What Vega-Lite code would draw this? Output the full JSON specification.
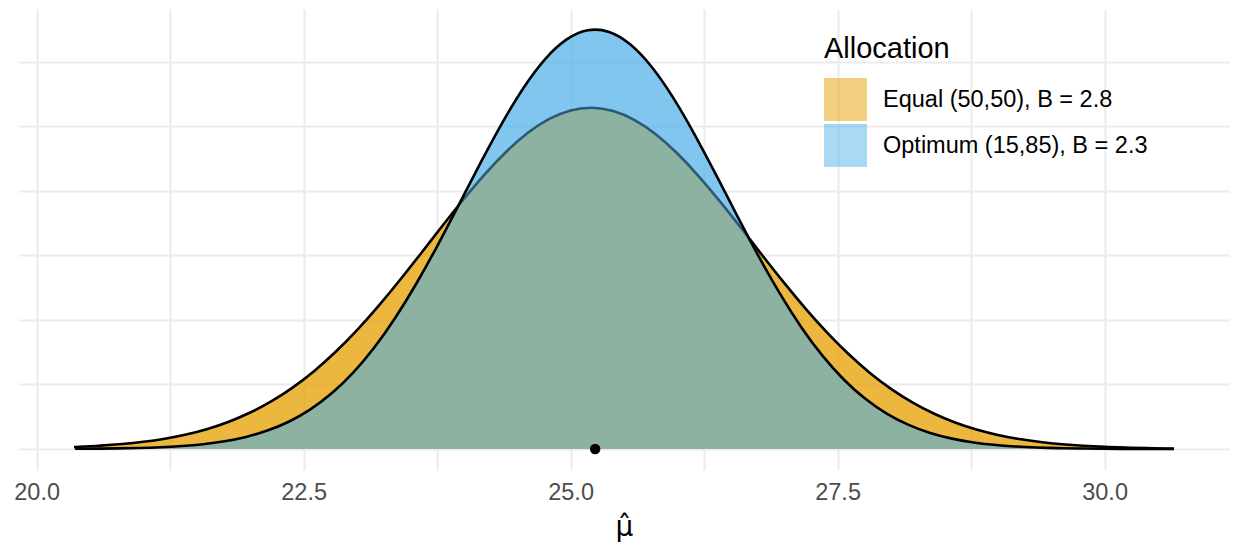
{
  "$schema": "https://vega.github.io/schema/vega-lite/v6.json",
  "width": 1210,
  "height": 461,
  "autosize": {"type": "none"},
  "padding": {"left": 19, "top": 9, "right": 6, "bottom": 90},
  "background": "white",
  "config": {"view": {"stroke": null}, "font": "Liberation Sans"},
  "datasets": {
    "dens": [
      {"x": 20.35, "y": 0.00153, "g": "Equal (50,50), B = 2.8"},
      {"x": 20.4, "y": 0.0017, "g": "Equal (50,50), B = 2.8"},
      {"x": 20.6, "y": 0.00258, "g": "Equal (50,50), B = 2.8"},
      {"x": 20.8, "y": 0.00382, "g": "Equal (50,50), B = 2.8"},
      {"x": 21.0, "y": 0.00557, "g": "Equal (50,50), B = 2.8"},
      {"x": 21.2, "y": 0.00799, "g": "Equal (50,50), B = 2.8"},
      {"x": 21.4, "y": 0.01124, "g": "Equal (50,50), B = 2.8"},
      {"x": 21.6, "y": 0.01555, "g": "Equal (50,50), B = 2.8"},
      {"x": 21.8, "y": 0.02114, "g": "Equal (50,50), B = 2.8"},
      {"x": 22.0, "y": 0.02823, "g": "Equal (50,50), B = 2.8"},
      {"x": 22.2, "y": 0.03705, "g": "Equal (50,50), B = 2.8"},
      {"x": 22.4, "y": 0.04777, "g": "Equal (50,50), B = 2.8"},
      {"x": 22.6, "y": 0.06051, "g": "Equal (50,50), B = 2.8"},
      {"x": 22.8, "y": 0.07533, "g": "Equal (50,50), B = 2.8"},
      {"x": 23.0, "y": 0.09214, "g": "Equal (50,50), B = 2.8"},
      {"x": 23.2, "y": 0.11074, "g": "Equal (50,50), B = 2.8"},
      {"x": 23.4, "y": 0.13076, "g": "Equal (50,50), B = 2.8"},
      {"x": 23.6, "y": 0.1517, "g": "Equal (50,50), B = 2.8"},
      {"x": 23.8, "y": 0.17296, "g": "Equal (50,50), B = 2.8"},
      {"x": 24.0, "y": 0.19373, "g": "Equal (50,50), B = 2.8"},
      {"x": 24.2, "y": 0.21322, "g": "Equal (50,50), B = 2.8"},
      {"x": 24.4, "y": 0.23059, "g": "Equal (50,50), B = 2.8"},
      {"x": 24.6, "y": 0.24502, "g": "Equal (50,50), B = 2.8"},
      {"x": 24.8, "y": 0.2558, "g": "Equal (50,50), B = 2.8"},
      {"x": 25.0, "y": 0.26241, "g": "Equal (50,50), B = 2.8"},
      {"x": 25.2, "y": 0.2645, "g": "Equal (50,50), B = 2.8"},
      {"x": 25.4, "y": 0.26195, "g": "Equal (50,50), B = 2.8"},
      {"x": 25.6, "y": 0.2549, "g": "Equal (50,50), B = 2.8"},
      {"x": 25.8, "y": 0.24372, "g": "Equal (50,50), B = 2.8"},
      {"x": 26.0, "y": 0.22897, "g": "Equal (50,50), B = 2.8"},
      {"x": 26.2, "y": 0.21135, "g": "Equal (50,50), B = 2.8"},
      {"x": 26.4, "y": 0.1917, "g": "Equal (50,50), B = 2.8"},
      {"x": 26.6, "y": 0.17085, "g": "Equal (50,50), B = 2.8"},
      {"x": 26.8, "y": 0.14959, "g": "Equal (50,50), B = 2.8"},
      {"x": 27.0, "y": 0.12871, "g": "Equal (50,50), B = 2.8"},
      {"x": 27.2, "y": 0.1088, "g": "Equal (50,50), B = 2.8"},
      {"x": 27.4, "y": 0.09037, "g": "Equal (50,50), B = 2.8"},
      {"x": 27.6, "y": 0.07375, "g": "Equal (50,50), B = 2.8"},
      {"x": 27.8, "y": 0.05915, "g": "Equal (50,50), B = 2.8"},
      {"x": 28.0, "y": 0.0466, "g": "Equal (50,50), B = 2.8"},
      {"x": 28.2, "y": 0.03609, "g": "Equal (50,50), B = 2.8"},
      {"x": 28.4, "y": 0.02745, "g": "Equal (50,50), B = 2.8"},
      {"x": 28.6, "y": 0.02051, "g": "Equal (50,50), B = 2.8"},
      {"x": 28.8, "y": 0.01506, "g": "Equal (50,50), B = 2.8"},
      {"x": 29.0, "y": 0.01087, "g": "Equal (50,50), B = 2.8"},
      {"x": 29.2, "y": 0.00771, "g": "Equal (50,50), B = 2.8"},
      {"x": 29.4, "y": 0.00537, "g": "Equal (50,50), B = 2.8"},
      {"x": 29.6, "y": 0.00368, "g": "Equal (50,50), B = 2.8"},
      {"x": 29.8, "y": 0.00247, "g": "Equal (50,50), B = 2.8"},
      {"x": 30.0, "y": 0.00163, "g": "Equal (50,50), B = 2.8"},
      {"x": 30.2, "y": 0.00106, "g": "Equal (50,50), B = 2.8"},
      {"x": 30.4, "y": 0.00068, "g": "Equal (50,50), B = 2.8"},
      {"x": 30.6, "y": 0.00042, "g": "Equal (50,50), B = 2.8"},
      {"x": 30.65, "y": 0.00038, "g": "Equal (50,50), B = 2.8"},
      {"x": 20.36, "y": 0.00012, "g": "Optimum (15,85), B = 2.3"},
      {"x": 20.56, "y": 0.00023, "g": "Optimum (15,85), B = 2.3"},
      {"x": 20.76, "y": 0.00043, "g": "Optimum (15,85), B = 2.3"},
      {"x": 20.96, "y": 0.00077, "g": "Optimum (15,85), B = 2.3"},
      {"x": 21.16, "y": 0.00133, "g": "Optimum (15,85), B = 2.3"},
      {"x": 21.36, "y": 0.00226, "g": "Optimum (15,85), B = 2.3"},
      {"x": 21.56, "y": 0.00372, "g": "Optimum (15,85), B = 2.3"},
      {"x": 21.76, "y": 0.00598, "g": "Optimum (15,85), B = 2.3"},
      {"x": 21.96, "y": 0.00935, "g": "Optimum (15,85), B = 2.3"},
      {"x": 22.16, "y": 0.01424, "g": "Optimum (15,85), B = 2.3"},
      {"x": 22.36, "y": 0.02113, "g": "Optimum (15,85), B = 2.3"},
      {"x": 22.56, "y": 0.03052, "g": "Optimum (15,85), B = 2.3"},
      {"x": 22.76, "y": 0.04293, "g": "Optimum (15,85), B = 2.3"},
      {"x": 22.96, "y": 0.05878, "g": "Optimum (15,85), B = 2.3"},
      {"x": 23.16, "y": 0.07841, "g": "Optimum (15,85), B = 2.3"},
      {"x": 23.36, "y": 0.10185, "g": "Optimum (15,85), B = 2.3"},
      {"x": 23.56, "y": 0.12881, "g": "Optimum (15,85), B = 2.3"},
      {"x": 23.76, "y": 0.15865, "g": "Optimum (15,85), B = 2.3"},
      {"x": 23.96, "y": 0.19032, "g": "Optimum (15,85), B = 2.3"},
      {"x": 24.16, "y": 0.22228, "g": "Optimum (15,85), B = 2.3"},
      {"x": 24.36, "y": 0.2528, "g": "Optimum (15,85), B = 2.3"},
      {"x": 24.56, "y": 0.28001, "g": "Optimum (15,85), B = 2.3"},
      {"x": 24.76, "y": 0.30203, "g": "Optimum (15,85), B = 2.3"},
      {"x": 24.96, "y": 0.31723, "g": "Optimum (15,85), B = 2.3"},
      {"x": 25.16, "y": 0.32447, "g": "Optimum (15,85), B = 2.3"},
      {"x": 25.36, "y": 0.32318, "g": "Optimum (15,85), B = 2.3"},
      {"x": 25.56, "y": 0.31347, "g": "Optimum (15,85), B = 2.3"},
      {"x": 25.76, "y": 0.29608, "g": "Optimum (15,85), B = 2.3"},
      {"x": 25.96, "y": 0.27232, "g": "Optimum (15,85), B = 2.3"},
      {"x": 26.16, "y": 0.24391, "g": "Optimum (15,85), B = 2.3"},
      {"x": 26.36, "y": 0.21276, "g": "Optimum (15,85), B = 2.3"},
      {"x": 26.56, "y": 0.1807, "g": "Optimum (15,85), B = 2.3"},
      {"x": 26.76, "y": 0.14946, "g": "Optimum (15,85), B = 2.3"},
      {"x": 26.96, "y": 0.12038, "g": "Optimum (15,85), B = 2.3"},
      {"x": 27.16, "y": 0.09442, "g": "Optimum (15,85), B = 2.3"},
      {"x": 27.36, "y": 0.07211, "g": "Optimum (15,85), B = 2.3"},
      {"x": 27.56, "y": 0.05364, "g": "Optimum (15,85), B = 2.3"},
      {"x": 27.76, "y": 0.03885, "g": "Optimum (15,85), B = 2.3"},
      {"x": 27.96, "y": 0.0274, "g": "Optimum (15,85), B = 2.3"},
      {"x": 28.16, "y": 0.01883, "g": "Optimum (15,85), B = 2.3"},
      {"x": 28.36, "y": 0.01259, "g": "Optimum (15,85), B = 2.3"},
      {"x": 28.56, "y": 0.0082, "g": "Optimum (15,85), B = 2.3"},
      {"x": 28.76, "y": 0.0052, "g": "Optimum (15,85), B = 2.3"},
      {"x": 28.96, "y": 0.00321, "g": "Optimum (15,85), B = 2.3"},
      {"x": 29.16, "y": 0.00193, "g": "Optimum (15,85), B = 2.3"},
      {"x": 29.36, "y": 0.00113, "g": "Optimum (15,85), B = 2.3"},
      {"x": 29.56, "y": 0.00065, "g": "Optimum (15,85), B = 2.3"},
      {"x": 29.76, "y": 0.00036, "g": "Optimum (15,85), B = 2.3"},
      {"x": 29.96, "y": 0.00019, "g": "Optimum (15,85), B = 2.3"},
      {"x": 30.16, "y": 0.0001, "g": "Optimum (15,85), B = 2.3"},
      {"x": 30.36, "y": 0.00005, "g": "Optimum (15,85), B = 2.3"},
      {"x": 30.56, "y": 0.00003, "g": "Optimum (15,85), B = 2.3"},
      {"x": 30.65, "y": 0.00002, "g": "Optimum (15,85), B = 2.3"}
    ],
    "pt": [{"x": 25.23, "y": 0}]
  },
  "data": {"name": "dens"},
  "encoding": {
    "x": {
      "field": "x",
      "type": "quantitative",
      "scale": {"domain": [19.835, 31.165], "nice": false, "zero": false},
      "axis": {
        "values": [20, 21.25, 22.5, 23.75, 25, 26.25, 27.5, 28.75, 30],
        "labelExpr": "datum.value % 2.5 === 0 ? format(datum.value, '.1f') : ''",
        "domain": false,
        "ticks": false,
        "grid": true,
        "gridColor": "#EBEBEB",
        "gridWidth": 2,
        "labelFontSize": 23.5,
        "labelColor": "#4D4D4D",
        "labelPadding": 10,
        "title": "μ̂",
        "titleFont": "DejaVu Sans",
        "titleFontSize": 28,
        "titleFontWeight": "normal",
        "titleColor": "#000000",
        "titlePadding": 10
      }
    },
    "y": {
      "field": "y",
      "type": "quantitative",
      "stack": null,
      "scale": {"domain": [-0.0163, 0.341], "nice": false, "zero": false},
      "axis": {
        "values": [0, 0.05, 0.1, 0.15, 0.2, 0.25, 0.3],
        "labels": false,
        "ticks": false,
        "domain": false,
        "title": null,
        "grid": true,
        "gridColor": "#EBEBEB",
        "gridWidth": 2
      }
    }
  },
  "layer": [
    {
      "mark": {"type": "area", "fillOpacity": 0.5, "interpolate": "natural"},
      "encoding": {
        "color": {
          "field": "g",
          "type": "nominal",
          "scale": {
            "domain": ["Equal (50,50), B = 2.8", "Optimum (15,85), B = 2.3"],
            "range": ["#E69F00", "#56B4E9"]
          },
          "legend": {
            "title": "Allocation",
            "orient": "none",
            "legendX": 805,
            "legendY": 26,
            "titleFontSize": 29,
            "titleFontWeight": "normal",
            "titleColor": "#000000",
            "titlePadding": 14,
            "labelFontSize": 23.5,
            "labelColor": "#000000",
            "labelLimit": 500,
            "labelOffset": 16,
            "symbolType": "square",
            "symbolSize": 1849,
            "symbolStrokeWidth": 0,
            "symbolOpacity": 0.5,
            "rowPadding": 3
          }
        }
      }
    },
    {
      "transform": [{"filter": "datum.g === 'Equal (50,50), B = 2.8'"}],
      "mark": {"type": "area", "color": "#E69F00", "fillOpacity": 0.5, "interpolate": "natural"}
    },
    {
      "transform": [{"filter": "datum.g === 'Equal (50,50), B = 2.8'"}],
      "mark": {"type": "line", "color": "#000000", "strokeWidth": 2.6, "interpolate": "natural"}
    },
    {
      "transform": [{"filter": "datum.g === 'Optimum (15,85), B = 2.3'"}],
      "mark": {"type": "area", "color": "#56B4E9", "fillOpacity": 0.5, "interpolate": "natural"}
    },
    {
      "transform": [{"filter": "datum.g === 'Optimum (15,85), B = 2.3'"}],
      "mark": {"type": "line", "color": "#000000", "strokeWidth": 2.6, "interpolate": "natural"}
    },
    {
      "data": {"name": "pt"},
      "mark": {"type": "point", "filled": true, "color": "#000000", "opacity": 1, "size": 110}
    }
  ]
}
